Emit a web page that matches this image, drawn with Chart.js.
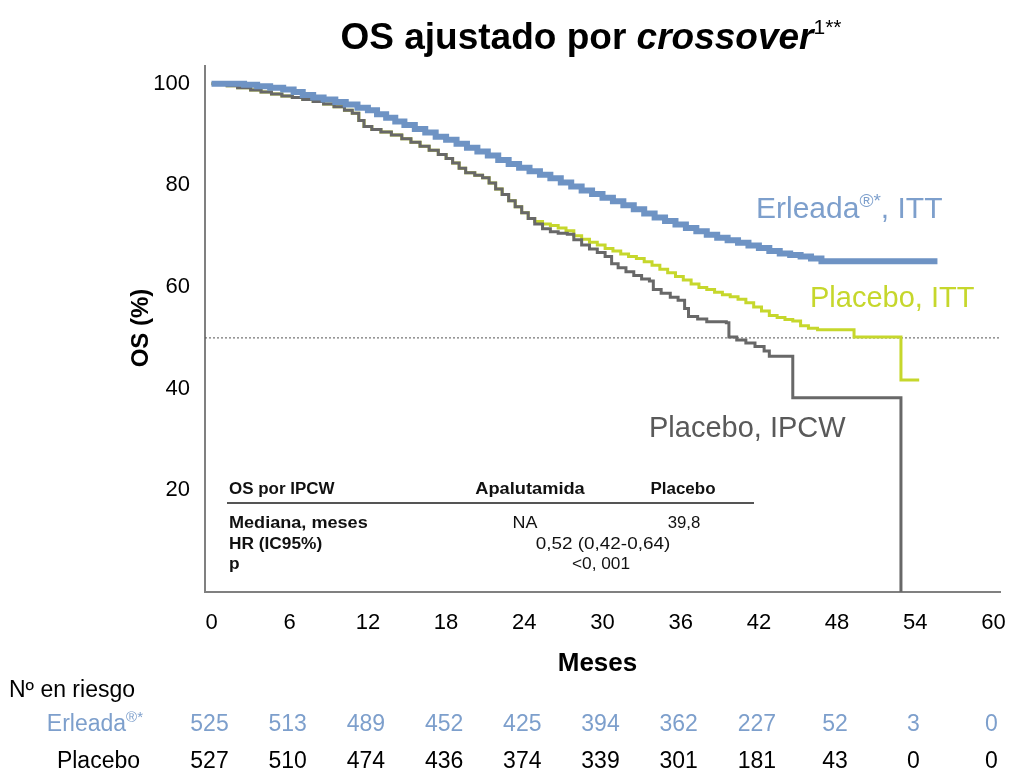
<!DOCTYPE html>
<html>
<head>
<meta charset="utf-8">
<script src="https://cdn.jsdelivr.net/npm/chart.js@4.4.1/dist/chart.umd.min.js"></script>
<style>
  html, body { margin: 0; padding: 0; background: #fff; }
</style>
</head>
<body>
<canvas id="km" width="1009" height="771"></canvas>
<script>
// axis ticks
const xTicks = [0, 6, 12, 18, 24, 30, 36, 42, 48, 54, 60];
const yTicks = [20, 40, 60, 80, 100];

// Erleada ITT (months, OS %)
const erleadaMonths = [0, 2.5, 3.5, 4.5, 5.5, 6.3, 7, 7.8, 8.6, 9.5, 10.3, 11.2, 12, 12.7, 13.4, 14.1, 14.8, 15.6, 16.4, 17.2, 18, 18.8, 19.6, 20.4, 21.2, 22, 22.8, 23.6, 24.4, 25.2, 26, 26.8, 27.6, 28.4, 29.2, 30, 30.8, 31.6, 32.4, 33.2, 34, 34.8, 35.6, 36.4, 37.2, 38, 38.8, 39.6, 40.4, 41.2, 42, 42.8, 43.6, 44.4, 45.2, 46, 46.8, 55.7];
const erleadaOS = [100, 99.8, 99.5, 99.2, 98.9, 98.4, 97.8, 97.3, 96.9, 96.4, 95.9, 95.3, 94.8, 94.0, 93.3, 92.6, 91.9, 91.1, 90.4, 89.6, 89.0, 88.2, 87.4, 86.7, 85.9, 85.0, 84.2, 83.5, 82.8, 82.1, 81.4, 80.6, 79.8, 79.0, 78.3, 77.6, 76.9, 76.1, 75.3, 74.5, 73.7, 73.0, 72.3, 71.6, 71.0, 70.3, 69.7, 69.2, 68.7, 68.2, 67.7, 67.1, 66.6, 66.3, 66.0, 65.6, 65.1, 65.1];

// Placebo ITT
const placeboIttMonths = [0, 1.2, 2, 3, 3.8, 4.6, 5.4, 6.2, 7, 7.8, 8.6, 9.4, 10.2, 10.8, 11.3, 11.7, 12.3, 13, 13.8, 14.6, 15.3, 16, 16.7, 17.4, 18, 18.5, 19, 19.5, 20.2, 20.8, 21.3, 21.8, 22.3, 22.8, 23.3, 23.8, 24.3, 24.8, 25.4, 26, 26.6, 27.2, 27.8, 28.4, 29, 29.6, 30.2, 30.8, 31.4, 32, 32.6, 33.2, 33.8, 34.4, 35, 35.6, 36.2, 36.8, 37.4, 38, 38.6, 39.2, 39.8, 40.4, 41, 41.6, 42.2, 42.8, 43.4, 44, 44.6, 45.2, 45.8, 46.5, 49.3, 52.9, 54.3];
const placeboIttOS = [100, 99.6, 99.2, 98.8, 98.4, 98.0, 97.6, 97.3, 96.9, 96.5, 96.0, 95.5, 94.8, 94.2, 92.8, 91.6, 91.0, 90.5, 89.9, 89.2, 88.5, 87.7, 86.9, 86.1, 85.3, 84.4, 83.4, 82.5, 82.0, 81.5, 80.5, 79.3, 78.2, 77.0, 75.8, 74.6, 73.5, 72.9, 72.4, 72.1, 71.6, 71.1, 70.1, 69.4, 68.8, 68.3, 67.6, 67.1, 66.5, 66.0, 65.6, 65.0, 64.3, 63.5, 62.8, 62.1, 61.4, 60.6, 59.9, 59.5, 59.0, 58.5, 58.1, 57.6, 56.9, 56.1, 55.3, 54.4, 54.0, 53.6, 53.3, 52.4, 51.9, 51.6, 50.2, 41.7, 41.7];

// Placebo IPCW
const placeboIpcwMonths = [0, 1.2, 2, 3, 3.8, 4.6, 5.4, 6.2, 7, 7.8, 8.6, 9.4, 10.2, 10.8, 11.3, 11.7, 12.3, 13, 13.8, 14.6, 15.3, 16, 16.7, 17.4, 18, 18.5, 19, 19.5, 20.2, 20.8, 21.3, 21.8, 22.3, 22.8, 23.3, 23.8, 24.3, 24.8, 25.4, 26, 26.6, 27.3, 27.8, 28.4, 29, 29.6, 30.2, 30.7, 31.2, 31.8, 32.4, 33, 33.6, 33.9, 34.5, 35.2, 35.8, 36.3, 36.6, 37.3, 38, 39.5, 39.7, 40.3, 41, 41.7, 42.4, 42.8, 44.6, 52.9];
const placeboIpcwOS = [100, 99.6, 99.2, 98.8, 98.4, 98.0, 97.6, 97.3, 96.9, 96.5, 96.0, 95.5, 94.8, 94.2, 92.8, 91.6, 91.0, 90.5, 89.9, 89.2, 88.5, 87.7, 86.9, 86.1, 85.3, 84.4, 83.4, 82.5, 82.0, 81.5, 80.5, 79.3, 78.2, 77.0, 75.8, 74.6, 73.5, 72.4, 71.5, 70.9, 70.6, 70.4, 69.3, 68.3, 67.5, 66.8, 66.0, 64.6, 63.8, 63.0, 62.3, 61.6, 61.2, 59.5, 58.8, 58.0, 57.4, 55.8, 54.2, 53.7, 53.2, 53.0, 50.2, 49.6, 49.0, 48.3, 47.4, 46.4, 38.2, 0];

// median reference line
const medianMonths = [-0.5, 60.8];
const medianOS = [50, 50];

// patients at risk
const riskMonths = [0, 6, 12, 18, 24, 30, 36, 42, 48, 54, 60];
const riskErleada = [525, 513, 489, 452, 425, 394, 362, 227, 52, 3, 0];
const riskPlacebo = [527, 510, 474, 436, 374, 339, 301, 181, 43, 0, 0];

// inset table
const insetHeader = ['OS por IPCW', 'Apalutamida', 'Placebo'];
const insetRows = [
  ['Mediana, meses', 'NA', '39,8'],
  ['HR (IC95%)', '0,52 (0,42-0,64)'],
  ['p', '<0, 001']
];

const FONT = '"Liberation Sans", Arial, Helvetica, sans-serif';
const BLUE = '#6e93c4';
const BLUE_TEXT = '#7d9fcc';
const LIME = '#c6d72c';
const GREY = '#686868';

const pairs = (xs, ys) => xs.map((x, i) => ({ x: x, y: ys[i] }));

// draw text pieces side by side (lets us mix italic / superscript)
function drawRuns(ctx, runs, x, y, color, align) {
  let total = 0;
  runs.forEach(r => {
    ctx.font = r.font;
    r.w = ctx.measureText(r.text).width;
    total += r.w;
  });
  let cx = x;
  if (align === 'center') cx = x - total / 2;
  if (align === 'right') cx = x - total;
  ctx.fillStyle = color;
  ctx.textAlign = 'left';
  ctx.textBaseline = 'alphabetic';
  runs.forEach(r => {
    ctx.font = r.font;
    ctx.fillText(r.text, cx, y + (r.dy || 0));
    cx += r.w;
  });
}

// plain text, optionally stretched horizontally
function text(ctx, str, x, y, font, color, align, stretch) {
  ctx.save();
  ctx.font = font;
  ctx.fillStyle = color;
  ctx.textAlign = align || 'left';
  ctx.textBaseline = 'alphabetic';
  ctx.translate(x, y);
  ctx.scale(stretch || 1, 1);
  ctx.fillText(str, 0, 0);
  ctx.restore();
}

const annotate = {
  id: 'annotate',
  afterDraw(chart) {
    const ctx = chart.ctx;
    const xs = chart.scales.x;
    const area = chart.chartArea;
    ctx.save();

    // title
    drawRuns(ctx, [
      { text: 'OS ajustado por ', font: 'bold 37px ' + FONT },
      { text: 'crossover', font: 'italic bold 37px ' + FONT },
      { text: '1**', font: '21px ' + FONT, dy: -15 }
    ], 591, 49, '#000', 'center');

    // axis titles
    text(ctx, 'Meses', (area.left + area.right) / 2 - 5, 671, 'bold 26px ' + FONT, '#000', 'center');
    ctx.save();
    ctx.translate(148, 328);
    ctx.rotate(-Math.PI / 2);
    text(ctx, 'OS (%)', 0, 0, 'bold 24px ' + FONT, '#000', 'center');
    ctx.restore();

    // curve labels
    drawRuns(ctx, [
      { text: 'Erleada', font: '30px ' + FONT },
      { text: '®*', font: '19px ' + FONT, dy: -11 },
      { text: ', ITT', font: '30px ' + FONT }
    ], 756, 218, BLUE_TEXT, 'left');
    text(ctx, 'Placebo, ITT', 810, 307, '29px ' + FONT, LIME, 'left');
    text(ctx, 'Placebo, IPCW', 649, 437, '29px ' + FONT, '#595959', 'left');

    // inset table
    const bold = 'bold 16px ' + FONT;
    const reg = '16px ' + FONT;
    text(ctx, insetHeader[0], 229, 494, bold, '#111', 'left', 1.06);
    text(ctx, insetHeader[1], 530, 494, bold, '#111', 'center', 1.14);
    text(ctx, insetHeader[2], 683, 494, bold, '#111', 'center', 1.06);
    ctx.strokeStyle = '#555';
    ctx.lineWidth = 2;
    ctx.beginPath();
    ctx.moveTo(227, 503);
    ctx.lineTo(754, 503);
    ctx.stroke();
    text(ctx, insetRows[0][0], 229, 528, bold, '#111', 'left', 1.13);
    text(ctx, insetRows[0][1], 525, 528, reg, '#111', 'center', 1.12);
    text(ctx, insetRows[0][2], 684, 528, reg, '#111', 'center', 1.05);
    text(ctx, insetRows[1][0], 229, 549, bold, '#111', 'left', 1.08);
    text(ctx, insetRows[1][1], 603, 549, reg, '#111', 'center', 1.18);
    text(ctx, insetRows[2][0], 229, 569, bold, '#111', 'left', 1.08);
    text(ctx, insetRows[2][1], 601, 569, reg, '#111', 'center', 1.08);

    // numbers at risk
    const riskFont = '23px ' + FONT;
    text(ctx, 'Nº en riesgo', 9, 697, riskFont, '#000', 'left');
    drawRuns(ctx, [
      { text: 'Erleada', font: riskFont },
      { text: '®*', font: '15px ' + FONT, dy: -9 }
    ], 143, 731, BLUE_TEXT, 'right');
    text(ctx, 'Placebo', 140, 768, riskFont, '#000', 'right');
    riskMonths.forEach((m, i) => {
      const px = xs.getPixelForValue(m);
      text(ctx, String(riskErleada[i]), px - 2, 731, riskFont, BLUE_TEXT, 'center');
      text(ctx, String(riskPlacebo[i]), px - 2, 768, riskFont, '#000', 'center');
    });

    ctx.restore();
  }
};

new Chart(document.getElementById('km'), {
  type: 'line',
  data: {
    datasets: [
      {
        label: 'Erleada, ITT',
        data: pairs(erleadaMonths, erleadaOS),
        borderColor: BLUE,
        borderWidth: 6,
        stepped: true,
        pointRadius: 0
      },
      {
        label: 'Placebo, IPCW',
        data: pairs(placeboIpcwMonths, placeboIpcwOS),
        borderColor: GREY,
        borderWidth: 3,
        stepped: true,
        pointRadius: 0
      },
      {
        label: 'Placebo, ITT',
        data: pairs(placeboIttMonths, placeboIttOS),
        borderColor: LIME,
        borderWidth: 3,
        stepped: true,
        pointRadius: 0
      },
      {
        label: 'Mediana',
        data: pairs(medianMonths, medianOS),
        borderColor: '#555',
        borderWidth: 1,
        borderDash: [2, 2],
        pointRadius: 0
      }
    ]
  },
  options: {
    responsive: false,
    animation: false,
    layout: { padding: { left: 0, right: 9, top: 66, bottom: 0 } },
    plugins: {
      legend: { display: false },
      tooltip: { enabled: false }
    },
    scales: {
      x: {
        type: 'linear',
        min: -0.5,
        max: 60.5,
        afterBuildTicks: axis => { axis.ticks = xTicks.map(v => ({ value: v })); },
        afterFit: axis => {
          axis.height = 179;
          axis.paddingLeft = 0;
          axis.paddingRight = 0;
        },
        grid: { display: false, drawTicks: false },
        border: { display: true, color: '#808080', width: 2 },
        ticks: { color: '#000', font: { size: 22, family: FONT }, padding: 18, maxRotation: 0 }
      },
      y: {
        type: 'linear',
        min: 0,
        max: 103.5,
        afterBuildTicks: axis => { axis.ticks = yTicks.map(v => ({ value: v })); },
        afterFit: axis => {
          axis.width = 205;
          axis.paddingTop = 0;
          axis.paddingBottom = 0;
        },
        grid: { display: false, drawTicks: false },
        border: { display: true, color: '#808080', width: 2 },
        ticks: { color: '#000', font: { size: 22, family: FONT }, padding: 15 }
      }
    }
  },
  plugins: [annotate]
});
</script>
</body>
</html>
